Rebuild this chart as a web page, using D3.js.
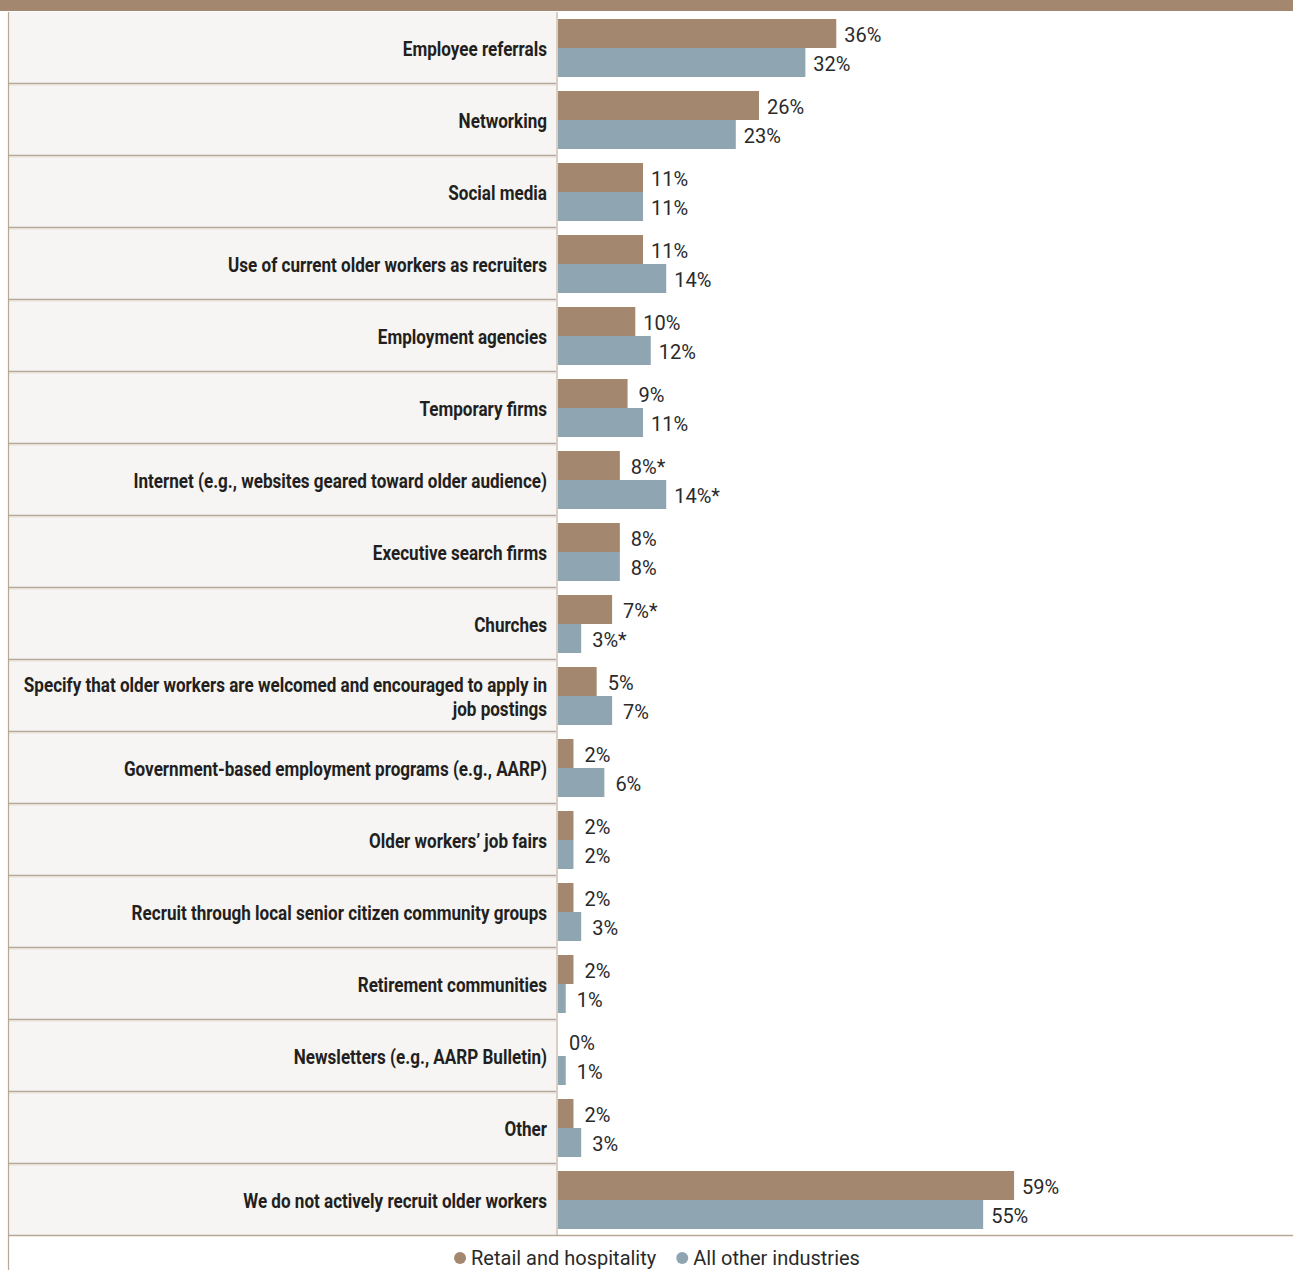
<!DOCTYPE html>
<html>
<head>
<meta charset="utf-8">
<script src="https://cdn.jsdelivr.net/npm/d3@7"></script>
<style>
  html, body { margin: 0; padding: 0; background: #ffffff; }
  svg { display: block; }
</style>
</head>
<body>
<svg id="chart" width="1293" height="1270"></svg>
<script>
// Recruitment methods, share of employers (%)
const categories = [
  ["Employee referrals"],
  ["Networking"],
  ["Social media"],
  ["Use of current older workers as recruiters"],
  ["Employment agencies"],
  ["Temporary firms"],
  ["Internet (e.g., websites geared toward older audience)"],
  ["Executive search firms"],
  ["Churches"],
  ["Specify that older workers are welcomed and encouraged to apply in", "job postings"],
  ["Government-based employment programs (e.g., AARP)"],
  ["Older workers\u2019 job fairs"],
  ["Recruit through local senior citizen community groups"],
  ["Retirement communities"],
  ["Newsletters (e.g., AARP Bulletin)"],
  ["Other"],
  ["We do not actively recruit older workers"]
];
const seriesNames = ["Retail and hospitality", "All other industries"];
const retail = [36, 26, 11, 11, 10, 9, 8, 8, 7, 5, 2, 2, 2, 2, 0, 2, 59];
const others = [32, 23, 11, 14, 12, 11, 14, 8, 3, 7, 6, 2, 3, 1, 1, 3, 55];
// rows whose difference is marked as significant
const significant = [false, false, false, false, false, false, true, false, true, false, false, false, false, false, false, false, false];
const colors = ["#a3876e", "#8fa5b2"];

const W = 1293, H = 1270;
const svg = d3.select("#chart");

const tableLeft = 8, splitX = 557, tableTop = 12, rowH = 72;
const n = categories.length;

const y = d3.scaleBand()
  .domain(d3.range(n))
  .range([tableTop, tableTop + n * rowH]);

const inner = d3.scaleBand()
  .domain([0, 1])
  .range([7, 65]);

const x = d3.scaleLinear()
  .domain([0, 100])
  .range([splitX + 1, splitX + 1 + 773]);

// top band
svg.append("rect")
  .attr("x", 0).attr("y", 0).attr("width", W).attr("height", 11)
  .attr("fill", "#a3876e");

// label column background
svg.append("rect")
  .attr("x", tableLeft).attr("y", tableTop)
  .attr("width", splitX - tableLeft).attr("height", n * rowH)
  .attr("fill", "#f6f5f3");

// row separators in the label column
const seps = svg.append("g");
d3.range(1, n).forEach(i => {
  seps.append("line")
    .attr("x1", tableLeft).attr("x2", splitX)
    .attr("y1", y(i) - 0.5).attr("y2", y(i) - 0.5)
    .attr("stroke", "#b9a796").attr("stroke-width", 1.6);
  seps.append("line")
    .attr("x1", tableLeft).attr("x2", splitX)
    .attr("y1", y(i) + 1).attr("y2", y(i) + 1)
    .attr("stroke", "#e4ddd6").attr("stroke-width", 1);
});

// column divider
svg.append("line")
  .attr("x1", splitX).attr("x2", splitX)
  .attr("y1", tableTop).attr("y2", tableTop + n * rowH)
  .attr("stroke", "#d9cec3").attr("stroke-width", 2);

// left border
svg.append("line")
  .attr("x1", tableLeft + 0.5).attr("x2", tableLeft + 0.5)
  .attr("y1", tableTop).attr("y2", H)
  .attr("stroke", "#b9a796").attr("stroke-width", 1.2);

// bottom rule
svg.append("line")
  .attr("x1", tableLeft).attr("x2", W)
  .attr("y1", tableTop + n * rowH - 0.5).attr("y2", tableTop + n * rowH - 0.5)
  .attr("stroke", "#b9a796").attr("stroke-width", 1.6);

// category labels (bold, horizontally condensed)
const labelFont = "Roboto, 'Open Sans', sans-serif";
const squeeze = 0.813;
const labels = svg.append("g");
categories.forEach((lines, i) => {
  const cy = y(i) + rowH / 2;
  const lineH = 24;
  const startY = cy - (lines.length - 1) * lineH / 2 + 8;
  lines.forEach((t, k) => {
    labels.append("text")
      .attr("transform", `translate(547,${startY + k * lineH}) scale(${squeeze},1)`)
      .attr("text-anchor", "end")
      .attr("font-family", labelFont)
      .attr("font-weight", 700)
      .attr("font-size", 21)
      .attr("fill", "#231f20")
      .text(t);
  });
});

// bars
const bars = svg.append("g");
const valueLabels = svg.append("g");
[retail, others].forEach((vals, s) => {
  bars.selectAll(null)
    .data(vals)
    .join("rect")
    .attr("x", x(0))
    .attr("y", (d, i) => y(i) + inner(s))
    .attr("width", d => x(d) - x(0))
    .attr("height", inner.bandwidth())
    .attr("fill", colors[s]);

  valueLabels.selectAll(null)
    .data(vals)
    .join("text")
    .attr("x", d => x(d) + (d < 10 ? 11 : 8))
    .attr("y", (d, i) => y(i) + inner(s) + inner.bandwidth() / 2 + 8)
    .attr("font-family", labelFont)
    .attr("font-size", 20)
    .attr("fill", "#2a2a2a")
    .text((d, i) => d + "%" + (significant[i] ? "*" : ""));
});

// legend
const legend = svg.append("g");
const legendY = 1258;
const items = legend.selectAll("g")
  .data(seriesNames)
  .join("g");
items.append("circle")
  .attr("r", 6)
  .attr("cy", legendY)
  .attr("fill", (d, i) => colors[i]);
items.append("text")
  .attr("y", legendY + 7)
  .attr("font-family", labelFont)
  .attr("font-size", 20)
  .attr("fill", "#2a2a2a")
  .text(d => d);

// lay legend items out in a centred row
const widths = [];
items.each(function () {
  widths.push(d3.select(this).select("text").node().getComputedTextLength());
});
const gap = 20, dotW = 12, dotGap = 5;
const total = d3.sum(widths) + widths.length * (dotW + dotGap) + gap * (widths.length - 1);
let cx = 657 - total / 2;
items.each(function (d, i) {
  const g = d3.select(this);
  g.select("circle").attr("cx", cx + dotW / 2);
  g.select("text").attr("x", cx + dotW + dotGap);
  cx += dotW + dotGap + widths[i] + gap;
});
</script>
</body>
</html>
